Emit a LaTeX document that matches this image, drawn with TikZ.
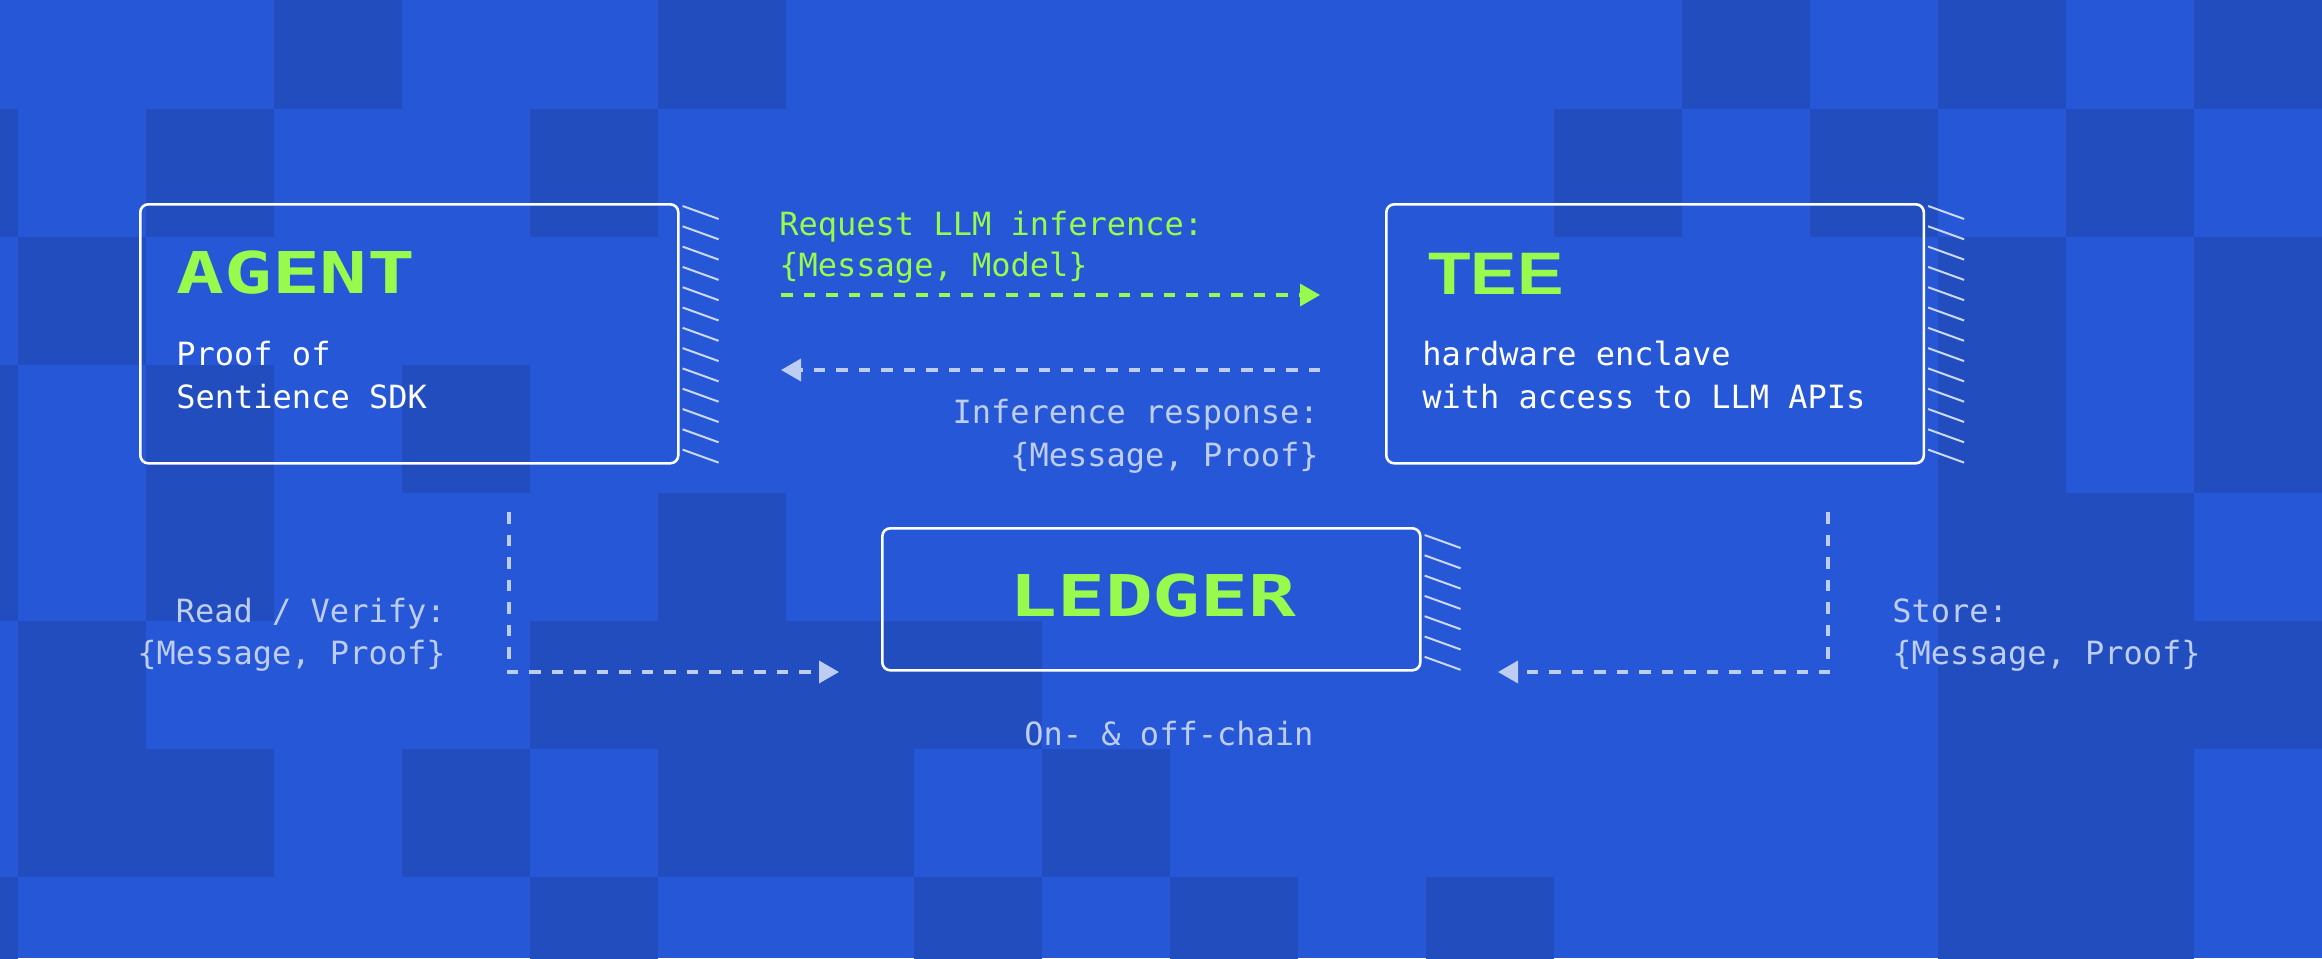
\documentclass[tikz,border=0pt]{standalone}
\usepackage{fontspec}
\usepackage{graphicx}
\usetikzlibrary{arrows.meta,calc}
\newfontfamily\monof{DejaVu Sans Mono}
\newfontfamily\teef{Liberation Sans}
\definecolor{bgbase}{RGB}{37,87,214}
\definecolor{bgdark}{RGB}{34,77,190}
\definecolor{greenc}{RGB}{152,250,76}
\definecolor{lightc}{RGB}{190,205,242}
\definecolor{hatchc}{RGB}{205,216,246}
\tikzset{
  darkcell/.style={fill=bgdark, draw=none},
  box/.style={draw=white, line width=1.3pt, rounded corners=4pt, inner sep=0pt, anchor=north west},
  hatch/.style={draw=hatchc, line width=1pt},
  bodytxt/.style={text=white, font=\monof\fontsize{16}{20}\selectfont, inner sep=0pt},
  lbltxt/.style={text=lightc, font=\monof\fontsize{16}{20}\selectfont, inner sep=0pt},
  greentxt/.style={text=greenc, font=\monof\fontsize{16}{20}\selectfont, inner sep=0pt},
  titletxt/.style={text=greenc, font=\monof\bfseries\fontsize{28.8}{30}\selectfont, inner sep=0pt, anchor=base west},
  flow/.style={line width=1.8pt, dash pattern=on 5.75pt off 5.5pt, -{Triangle[length=10pt,width=11pt]}},
}
\begin{document}
\begin{tikzpicture}[x=0.5pt,y=-0.5pt]
\useasboundingbox (0,0) rectangle (2322,958);
% background
\fill[bgbase] (0,0) rectangle (2322,958);
\begin{scope}
\clip (0,0) rectangle (2322,958);
\foreach \c/\r in {3/0,6/0,14/0,16/0,18/0,
                   0/1,2/1,5/1,13/1,15/1,17/1,
                   1/2,16/2,18/2,
                   0/3,2/3,4/3,16/3,18/3,
                   0/4,2/4,6/4,16/4,17/4,
                   1/5,5/5,6/5,7/5,8/5,16/5,17/5,18/5,
                   1/6,2/6,4/6,6/6,7/6,9/6,16/6,17/6,
                   0/7,5/7,8/7,10/7,12/7,16/7,17/7}
  \fill[darkcell] (-110+128*\c,-19+128*\r) rectangle ++(128,128);
\end{scope}

% boxes
\node[box, minimum width=269pt, minimum height=129.5pt] (agent) at (139,203) {};
\node[box, minimum width=268.75pt, minimum height=129.5pt] (tee) at (1385,203) {};
\node[box, minimum width=269pt, minimum height=71pt] (ledger) at (881,527) {};

% hatches
\foreach \k in {0,...,12} {
  \draw[hatch] ($(agent.north east)+(3,3+20.3*\k)$) -- ++(36,13);
  \draw[hatch] ($(tee.north east)+(3,3+20.3*\k)$) -- ++(36,13);
}
\foreach \k in {0,...,6}
  \draw[hatch] ($(ledger.north east)+(3,8+20.3*\k)$) -- ++(36,13);

% titles
\node[titletxt] (agentT) at (176,293) {\scalebox{1.38}[1]{AGENT}};
\node[titletxt, font=\teef\bfseries\fontsize{30}{32}\selectfont] (teeT) at (1428,294) {\scalebox{1.16}[1]{TEE}};
\node[titletxt] (ledgerT) at (1009,616) {\scalebox{1.38}[1]{LEDGER}};

% body text
\node[bodytxt, anchor=base west] (agentB1) at (176,365) {Proof of};
\node[bodytxt, anchor=base west] (agentB2) at (176,408) {Sentience SDK};
\node[bodytxt, anchor=base west] (teeB1) at (1422,365) {hardware enclave};
\node[bodytxt, anchor=base west] (teeB2) at (1422,408) {with access to LLM APIs};
\node[lbltxt, anchor=base west] (ledgerB) at (1024,745) {On- \& off-chain};

% labels
\node[greentxt, anchor=base west] (reqL1) at (779,235) {Request LLM inference:};
\node[greentxt, anchor=base west] (reqL2) at (779,276) {\{Message, Model\}};
\node[lbltxt, anchor=base east] (resL1) at (1319,423) {Inference response:};
\node[lbltxt, anchor=base east] (resL2) at (1319,466) {\{Message, Proof\}};
\node[lbltxt, anchor=base east] (rvL1) at (446,622) {Read / Verify:};
\node[lbltxt, anchor=base east] (rvL2) at (446,664) {\{Message, Proof\}};
\node[lbltxt, anchor=base west] (stL1) at (1892,622) {Store:};
\node[lbltxt, anchor=base west] (stL2) at (1892,664) {\{Message, Proof\}};

% connectors
\coordinate (reqA) at (781,295);
\coordinate (reqB) at (1320,295);
\draw[flow, greenc] (reqA) -- (reqB);
\coordinate (resA) at (1320,370);
\coordinate (resB) at (781,370);
\draw[flow, lightc] (resA) -- (resB);
\coordinate (rvA) at (509,512);
\coordinate (rvB) at (839,672);
\draw[flow, lightc] (rvA) |- (rvB);
\coordinate (stA) at (1828,512);
\coordinate (stB) at (1498,672);
\draw[flow, lightc] (stA) |- (stB);
\end{tikzpicture}
\end{document}
